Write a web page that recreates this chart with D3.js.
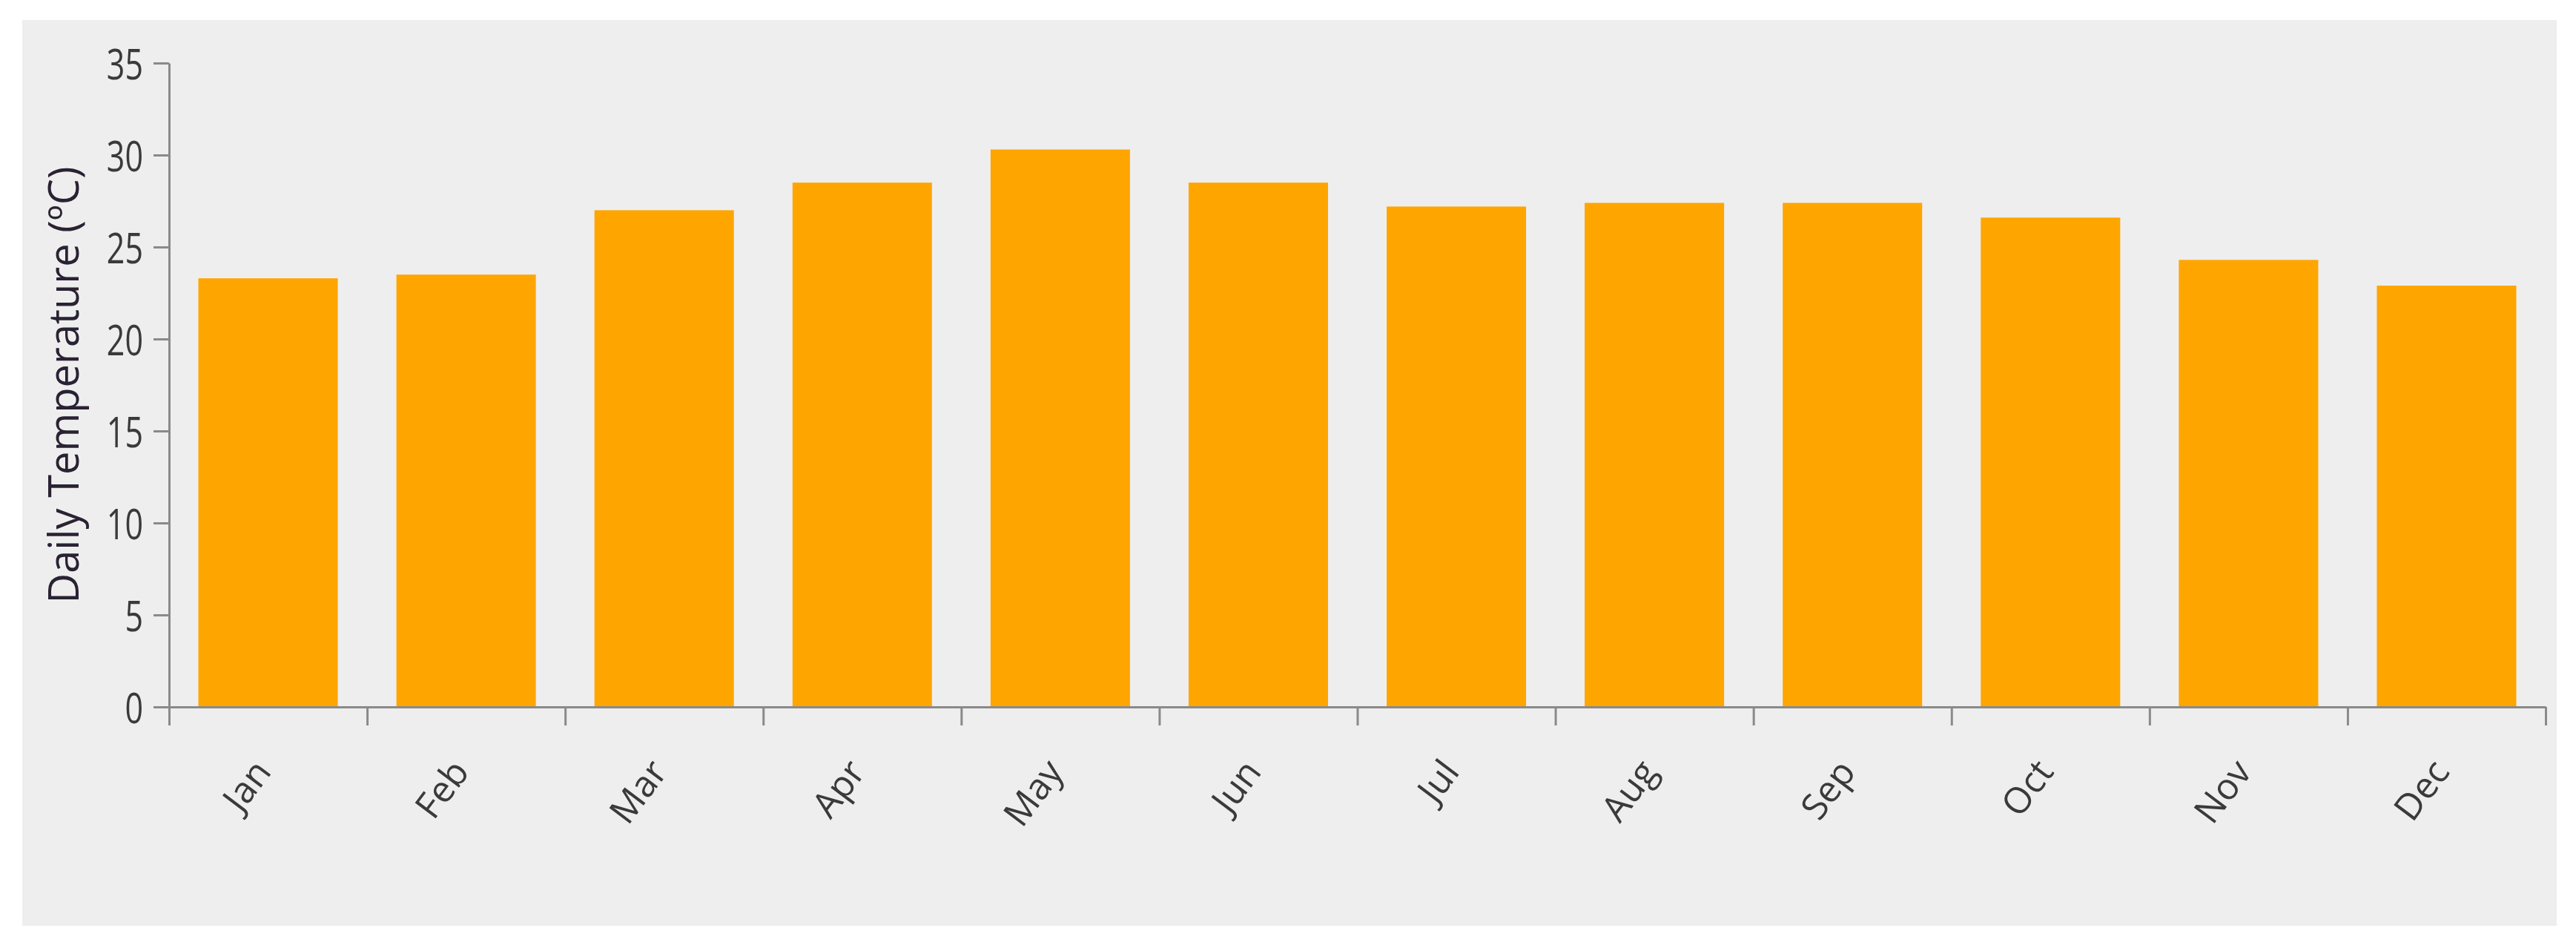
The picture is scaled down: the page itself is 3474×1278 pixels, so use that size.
<!DOCTYPE html>
<html>
<head>
<meta charset="utf-8">
<script src="https://cdn.jsdelivr.net/npm/d3@7"></script>
<style>
  html, body { margin: 0; padding: 0; background: #ffffff; }
  svg { display: block; }
</style>
</head>
<body>
<svg id="chart" width="3474" height="1278"></svg>
<script>
const months = ["Jan","Feb","Mar","Apr","May","Jun","Jul","Aug","Sep","Oct","Nov","Dec"];
const temps = [23.3, 23.5, 27.0, 28.5, 30.3, 28.5, 27.2, 27.4, 27.4, 26.6, 24.3, 22.9];
const yTickValues = [0, 5, 10, 15, 20, 25, 30, 35];
const yLabel = "Daily Temperature (ºC)";

(function () {
const plotLeft = 228, plotRight = 3433, plotTop = 85, plotBottom = 953;
const stretch = 1.3;
const font = "'Open Sans', 'Noto Sans', sans-serif";
const axisColor = "#8a8a8a";

const svg = d3.select("#chart");

svg.append("rect")
  .attr("x", 30).attr("y", 27)
  .attr("width", 3418).attr("height", 1221)
  .attr("fill", "#eeeeee");

const y = d3.scaleLinear().domain([0, 35]).range([plotBottom, plotTop]);
const x = d3.scaleBand().domain(months).range([plotLeft, plotRight])
  .paddingInner(0.296).paddingOuter(0.148);
const xTicks = d3.scaleLinear().domain([0, months.length]).range([plotLeft, plotRight]);

// bars
svg.append("g").selectAll("rect").data(months).join("rect")
  .attr("x", d => x(d))
  .attr("width", x.bandwidth())
  .attr("y", (d, i) => y(temps[i]))
  .attr("height", (d, i) => y(0) - y(temps[i]))
  .attr("fill", "#ffa500");

// y axis
const gy = svg.append("g").attr("transform", `translate(${plotLeft},0)`)
  .call(d3.axisLeft(y).tickValues(yTickValues).tickSize(21).tickSizeOuter(0).tickPadding(14));
gy.select(".domain").attr("stroke", axisColor).attr("stroke-width", 3);
gy.selectAll(".tick line").attr("stroke", axisColor).attr("stroke-width", 3);
gy.selectAll(".tick text")
  .attr("fill", "#3a3a3a")
  .style("font-family", font)
  .style("font-size", "43px")
  .attr("dy", null)
  .attr("transform", `scale(1,${stretch})`)
  .attr("y", 0)
  .attr("dominant-baseline", "central");

// x axis (ticks at band boundaries)
const gx = svg.append("g").attr("transform", `translate(0,${plotBottom})`)
  .call(d3.axisBottom(xTicks).ticks(months.length).tickSize(25).tickSizeOuter(0).tickFormat(""));
gx.select(".domain").attr("stroke", axisColor).attr("stroke-width", 3);
gx.selectAll(".tick line").attr("stroke", axisColor).attr("stroke-width", 3);

// x labels
svg.append("g").selectAll("text").data(months).join("text")
  .attr("transform", d => `translate(${x(d) + x.bandwidth() / 2 + 6},${plotBottom + 88}) rotate(-53)`)
  .attr("text-anchor", "end")
  .attr("fill", "#3a3a3a")
  .style("font-family", font)
  .style("font-size", "49px")
  .text(d => d);

// y label
svg.append("text")
  .attr("transform", `translate(106,${(plotTop + plotBottom) / 2}) rotate(-90)`)
  .attr("text-anchor", "middle")
  .attr("fill", "#2a2233")
  .style("font-family", font)
  .style("font-size", "56px")
  .text(yLabel);
})();
</script>
</body>
</html>
